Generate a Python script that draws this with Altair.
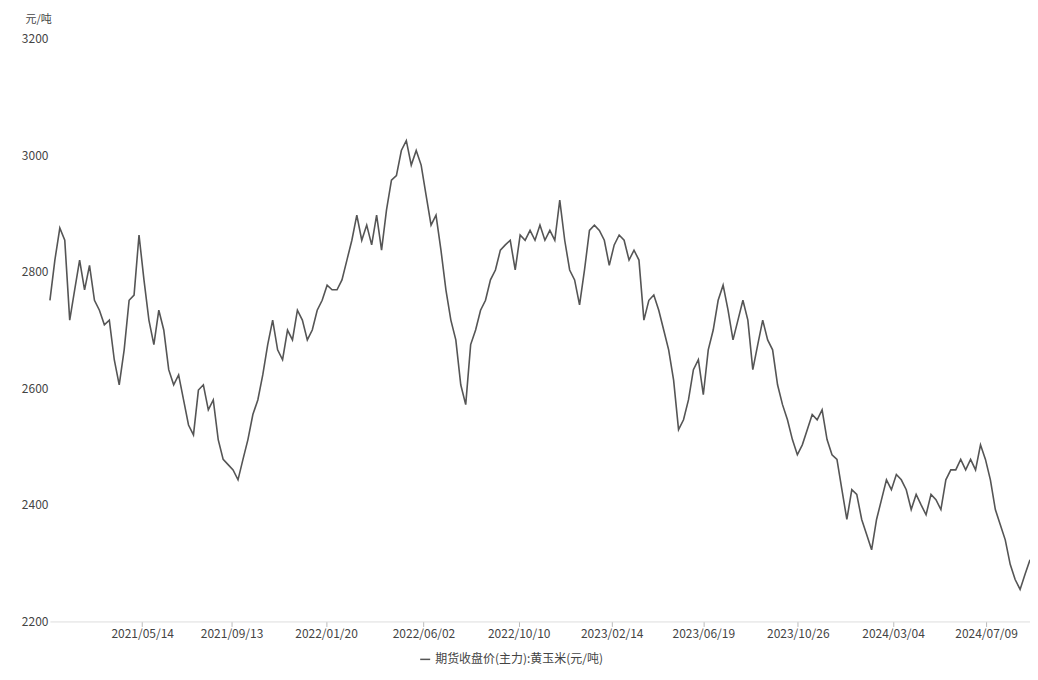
import altair as alt
import pandas as pd

prices = [
    2751, 2820, 2875, 2854, 2717, 2769, 2820, 2769, 2811, 2751,
    2734, 2709, 2717, 2649, 2606, 2666, 2751, 2760, 2863, 2786,
    2717, 2675, 2734, 2700, 2632, 2606, 2623, 2580, 2537, 2520,
    2597, 2606, 2563, 2580, 2512, 2478, 2469, 2460, 2443, 2478,
    2512, 2555, 2580, 2623, 2675, 2717, 2666, 2649, 2700, 2683,
    2734, 2717, 2683, 2700, 2734, 2751, 2777, 2769, 2769, 2786,
    2820, 2854, 2897, 2854, 2880, 2846, 2897, 2837, 2906, 2957,
    2965, 3008, 3025, 2983, 3008, 2983, 2931, 2880, 2897, 2837,
    2769, 2717, 2683, 2606, 2572, 2675, 2700, 2734, 2751, 2786,
    2803, 2837, 2846, 2854, 2803, 2863, 2854, 2871, 2854, 2880,
    2854, 2871, 2854, 2923, 2854, 2803, 2786, 2743, 2803, 2871,
    2880, 2871, 2854, 2811, 2846, 2863, 2854, 2820, 2837, 2820,
    2717, 2751, 2760, 2734, 2700, 2666, 2614, 2529, 2546, 2580,
    2632, 2649, 2589, 2666, 2700, 2751, 2777, 2734, 2683, 2717,
    2751, 2717, 2632, 2675, 2717, 2683, 2666, 2606, 2572, 2546,
    2512, 2486, 2503, 2529, 2555, 2546, 2563, 2512, 2486, 2478,
    2426, 2375, 2426, 2418, 2375, 2349, 2323, 2375, 2409, 2443,
    2426, 2452, 2443, 2426, 2392, 2418, 2400, 2383, 2418, 2409,
    2392, 2443, 2460, 2460, 2478, 2460, 2478, 2460, 2503, 2478,
    2443, 2392, 2366, 2340, 2298, 2272, 2255, 2281, 2306,
]
dates = pd.date_range(start="2021-01-08", end="2024-09-07", periods=len(prices))
tick_dates = ["2021-05-14", "2021-09-13", "2022-01-20", "2022-06-02", "2022-10-10",
              "2023-02-14", "2023-06-19", "2023-10-26", "2024-03-04", "2024-07-09"]
series_name = "期货收盘价(主力):黄玉米(元/吨)"

df = pd.DataFrame({"date": dates, "price": prices, "series": series_name})

font = "Noto Sans CJK SC"

chart = alt.Chart(df).mark_line(strokeWidth=1.6).encode(
    x=alt.X("date:T", title=None,
            scale=alt.Scale(domain=["2021-01-08", "2024-09-07"]),
            axis=alt.Axis(values=[pd.Timestamp(d).isoformat() for d in tick_dates],
                          format="%Y/%m/%d", grid=False, domainColor="#dddddd",
                          tickColor="#bbbbbb", labelColor="#444444", labelFontSize=12)),
    y=alt.Y("price:Q", title="元/吨",
            scale=alt.Scale(domain=[2200, 3200], nice=False),
            axis=alt.Axis(values=[2200, 2400, 2600, 2800, 3000, 3200], grid=False,
                          format="d", domain=False, ticks=False, labelColor="#444444",
                          labelFontSize=12, titleAngle=0, titleAlign="left",
                          titleBaseline="bottom", titleX=-25, titleY=-14,
                          titleFontWeight="normal", titleFontSize=11,
                          titleColor="#444444")),
    color=alt.Color("series:N", title=None,
                    scale=alt.Scale(range=["#555555"]),
                    legend=alt.Legend(orient="none", legendX=370, legendY=616,
                                      symbolType="stroke", labelLimit=400,
                                      labelFontSize=12, labelColor="#444444")),
).properties(
    width=982, height=584,
    padding={"left": 42, "top": 30, "right": 0, "bottom": 50},
).configure(font=font, autosize="none").configure_view(stroke=None)

chart.save("out.html", embed_options={"renderer": "svg", "actions": False})
